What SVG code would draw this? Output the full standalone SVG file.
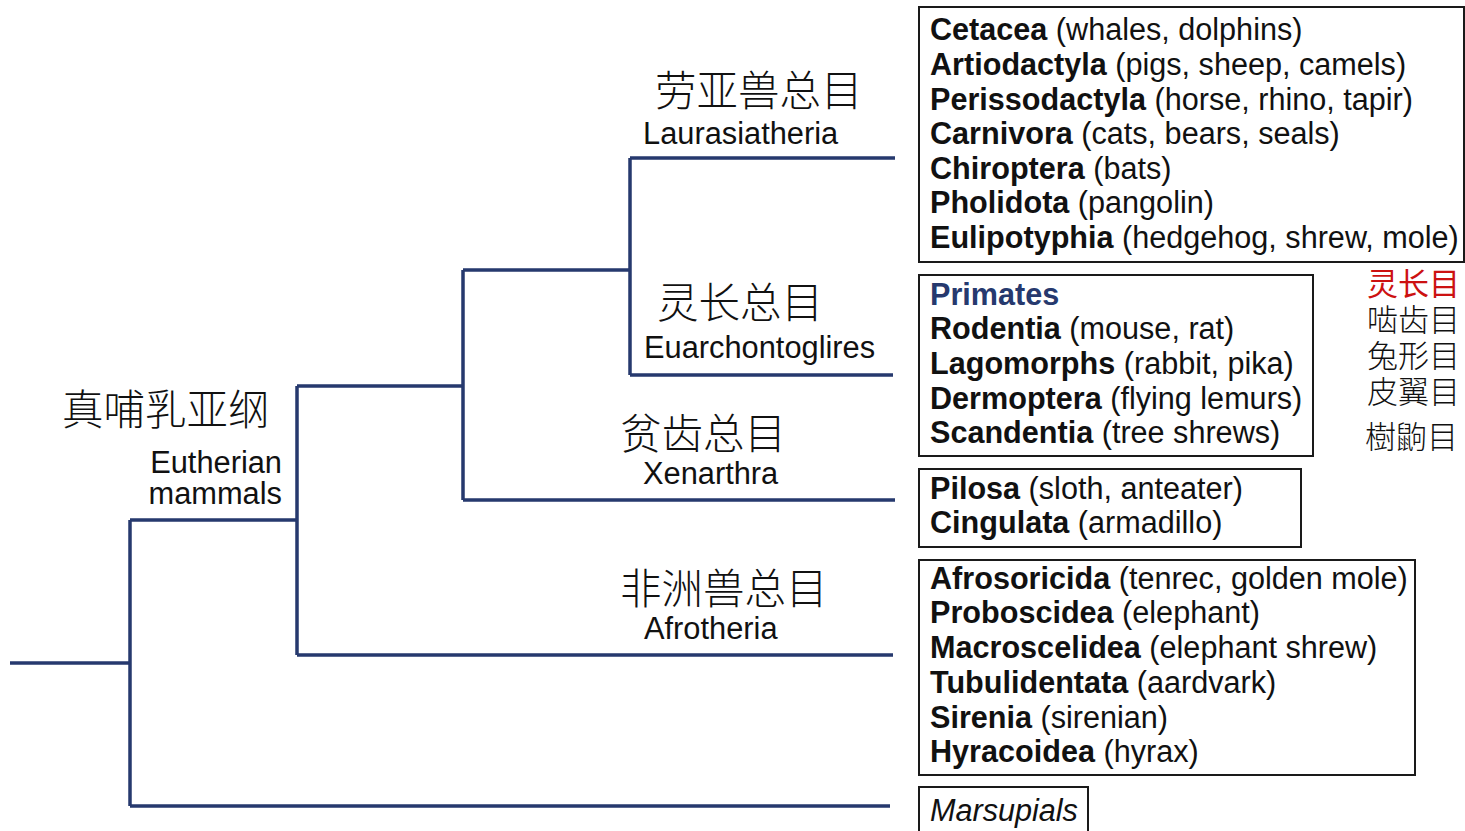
<svg xmlns="http://www.w3.org/2000/svg" width="1465" height="831" viewBox="0 0 1465 831">
  <style>
    .branch { fill: none; stroke: #26396e; stroke-width: 3.5; stroke-linecap: butt; }
    .box { fill: #ffffff; stroke: #1a1a1a; stroke-width: 2; }
    .t { font-family: "Liberation Sans", Arial, sans-serif; font-size: 30.6px; fill: #111111; }
    .b { font-weight: bold; }
    .zh { font-family: "Noto Sans CJK SC", sans-serif; font-weight: 300; fill: #111111; }
    .clade-zh { font-size: 41.5px; }
    .order-zh { font-size: 31px; }
    .clade-en { font-family: "Liberation Sans", Arial, sans-serif; font-size: 30.8px; fill: #111111; }
  </style>
  <rect width="1465" height="831" fill="#ffffff"/>

  <!-- tree branches -->
  <g id="connectors">
    <path class="branch" d="M10 663 H130"/>
    <path class="branch" d="M130 520 V806 M130 806 H890"/>
    <path class="branch" d="M130 520 H297 M297 386 V655 M297 655 H893"/>
    <path class="branch" d="M297 386 H463 M463 270 V500 M463 500 H895"/>
    <path class="branch" d="M463 270 H630 M630 158 V375 M630 158 H895 M630 375 H893"/>
  </g>

  <!-- clade labels -->
  <g id="eutheria-label">
    <text class="zh clade-zh" x="62" y="425">真哺乳亚纲</text>
    <text class="clade-en" x="282" y="473" text-anchor="end">Eutherian</text>
    <text class="clade-en" x="282" y="504" text-anchor="end">mammals</text>
  </g>
  <g id="laurasiatheria-label">
    <text class="zh clade-zh" x="655" y="106">劳亚兽总目</text>
    <text class="clade-en" x="643" y="144">Laurasiatheria</text>
  </g>
  <g id="euarchontoglires-label">
    <text class="zh clade-zh" x="657" y="318">灵长总目</text>
    <text class="clade-en" x="644" y="358">Euarchontoglires</text>
  </g>
  <g id="xenarthra-label">
    <text class="zh clade-zh" x="620" y="449">贫齿总目</text>
    <text class="clade-en" x="643" y="484">Xenarthra</text>
  </g>
  <g id="afrotheria-label">
    <text class="zh clade-zh" x="620" y="604">非洲兽总目</text>
    <text class="clade-en" x="644" y="639">Afrotheria</text>
  </g>

  <!-- Laurasiatheria orders -->
  <g id="laurasiatheria-box">
    <rect class="box" x="919" y="7" width="545" height="255"/>
    <text class="t" x="930" y="40"><tspan class="b">Cetacea</tspan> (whales, dolphins)</text>
    <text class="t" x="930" y="75"><tspan class="b">Artiodactyla</tspan> (pigs, sheep, camels)</text>
    <text class="t" x="930" y="110"><tspan class="b">Perissodactyla</tspan> (horse, rhino, tapir)</text>
    <text class="t" x="930" y="144"><tspan class="b">Carnivora</tspan> (cats, bears, seals)</text>
    <text class="t" x="930" y="179"><tspan class="b">Chiroptera</tspan> (bats)</text>
    <text class="t" x="930" y="213"><tspan class="b">Pholidota</tspan> (pangolin)</text>
    <text class="t" x="930" y="248"><tspan class="b">Eulipotyphia</tspan> (hedgehog, shrew, mole)</text>
  </g>

  <!-- Euarchontoglires orders -->
  <g id="euarchontoglires-box">
    <rect class="box" x="919" y="275" width="394" height="181"/>
    <text class="t b" x="930" y="305" style="fill:#26396e">Primates</text>
    <text class="t" x="930" y="339"><tspan class="b">Rodentia</tspan> (mouse, rat)</text>
    <text class="t" x="930" y="374"><tspan class="b">Lagomorphs</tspan> (rabbit, pika)</text>
    <text class="t" x="930" y="409"><tspan class="b">Dermoptera</tspan> (flying lemurs)</text>
    <text class="t" x="930" y="443"><tspan class="b">Scandentia</tspan> (tree shrews)</text>
  </g>
  <g id="euarchontoglires-orders-zh">
    <text class="zh order-zh" x="1367" y="295" style="fill:#cc1111;font-weight:400">灵长目</text>
    <text class="zh order-zh" x="1367" y="331">啮齿目</text>
    <text class="zh order-zh" x="1367" y="367">兔形目</text>
    <text class="zh order-zh" x="1367" y="403">皮翼目</text>
    <text class="zh order-zh" x="1365" y="448">樹鼩目</text>
  </g>

  <!-- Xenarthra orders -->
  <g id="xenarthra-box">
    <rect class="box" x="919" y="469" width="382" height="78"/>
    <text class="t" x="930" y="499"><tspan class="b">Pilosa</tspan> (sloth, anteater)</text>
    <text class="t" x="930" y="533"><tspan class="b">Cingulata</tspan> (armadillo)</text>
  </g>

  <!-- Afrotheria orders -->
  <g id="afrotheria-box">
    <rect class="box" x="919" y="560" width="496" height="215"/>
    <text class="t" x="930" y="589"><tspan class="b">Afrosoricida</tspan> (tenrec, golden mole)</text>
    <text class="t" x="930" y="623"><tspan class="b">Proboscidea</tspan> (elephant)</text>
    <text class="t" x="930" y="658"><tspan class="b">Macroscelidea</tspan> (elephant shrew)</text>
    <text class="t" x="930" y="693"><tspan class="b">Tubulidentata</tspan> (aardvark)</text>
    <text class="t" x="930" y="728"><tspan class="b">Sirenia</tspan> (sirenian)</text>
    <text class="t" x="930" y="762"><tspan class="b">Hyracoidea</tspan> (hyrax)</text>
  </g>

  <!-- outgroup -->
  <g id="marsupials-box">
    <rect class="box" x="919" y="787" width="169" height="50"/>
    <text class="t" x="930" y="821" font-style="italic">Marsupials</text>
  </g>
</svg>
